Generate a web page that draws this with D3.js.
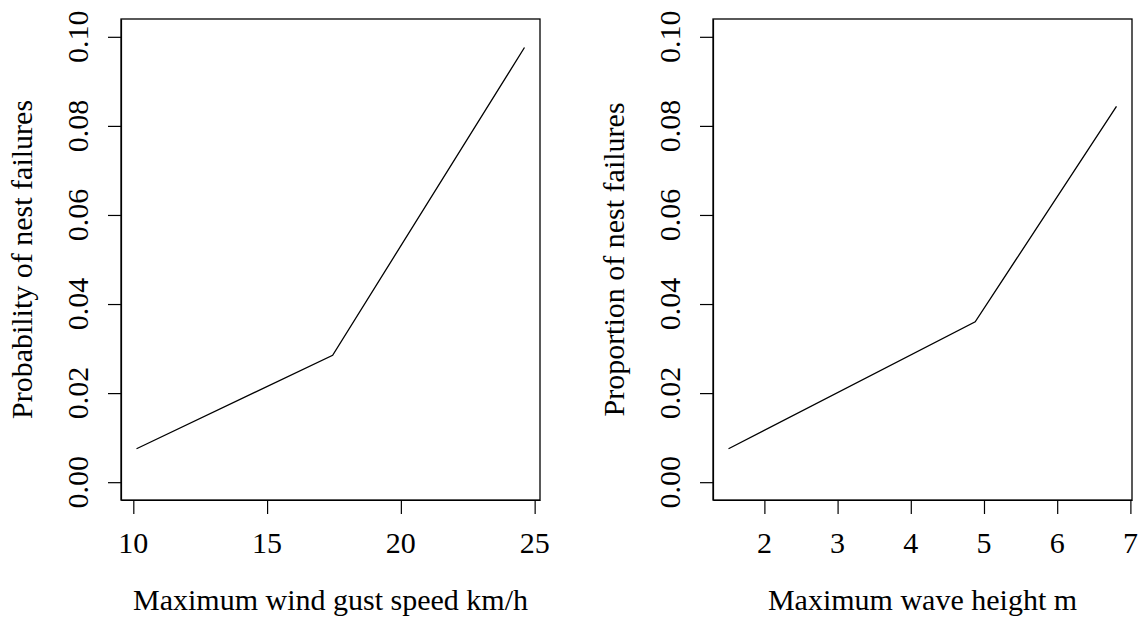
<!DOCTYPE html>
<html>
<head>
<meta charset="utf-8">
<script src="https://cdn.jsdelivr.net/npm/d3@7"></script>
<style>
  body { margin: 0; background: #fff; }
  #chart svg text, #chart svg { font-family: "Liberation Serif", "Times New Roman", serif !important; }
</style>
</head>
<body>
<div id="chart"></div>
<script>
// fitted curves
const windSpeed = [10.12, 17.45, 24.62]
const windProb = [0.0075, 0.0285, 0.0976]
const waveHeight = [1.51, 4.88, 6.81]
const waveProp = [0.0075, 0.036, 0.0844]

const yTicks = [0, 0.02, 0.04, 0.06, 0.08, 0.10]
const windTicks = [10, 15, 20, 25]
const waveTicks = [2, 3, 4, 5, 6, 7]

const width = 1146
const height = 622
const fontSize = 30
const serif = 'Liberation Serif'

const svg = d3.select('#chart')
    .append('svg')
    .attr('width', width)
    .attr('height', height)
    .attr('font-family', serif)

// R style range with 4% padding on each side
const padRange = (lo, hi) => {
    let ext = (hi - lo) * 0.04
    return [lo - ext, hi + ext]
}

const drawPanel = (opts) => {
    let { left, right, top, bottom, xs, yv, xTicks, xLabel, yLabel } = opts

    let xScale = d3.scaleLinear()
        .domain(padRange(d3.min(xs), d3.max(xs)))
        .range([left, right])
    let yScale = d3.scaleLinear()
        .domain(padRange(0, 0.1))
        .range([bottom, top])

    let g = svg.append('g')

    // y axis ticks
    let yAxis = d3.axisLeft(yScale)
        .tickValues(yTicks)
        .tickSize(13)
        .tickSizeOuter(0)
        .tickFormat('')
    g.append('g')
        .attr('transform', `translate(${left},0)`)
        .call(yAxis)
        .call(a => a.selectAll('line, path').attr('stroke', '#000').attr('stroke-width', 1.2))

    g.selectAll('.ylab')
        .data(yTicks)
        .enter()
        .append('text')
        .attr('class', 'ylab')
        .attr('text-anchor', 'middle')
        .attr('font-family', serif)
        .attr('font-size', fontSize)
        .attr('transform', d => `translate(${left - 33},${yScale(d)}) rotate(-90)`)
        .text(d => d3.format('.2f')(d))

    // x axis ticks
    let xAxis = d3.axisBottom(xScale)
        .tickValues(xTicks)
        .tickSize(14)
        .tickSizeOuter(0)
        .tickFormat('')
    g.append('g')
        .attr('transform', `translate(0,${bottom})`)
        .call(xAxis)
        .call(a => a.selectAll('line, path').attr('stroke', '#000').attr('stroke-width', 1.2))

    g.selectAll('.xlab')
        .data(xTicks)
        .enter()
        .append('text')
        .attr('class', 'xlab')
        .attr('text-anchor', 'middle')
        .attr('font-family', serif)
        .attr('font-size', fontSize)
        .attr('x', d => xScale(d))
        .attr('y', bottom + 53)
        .text(d => d)

    // box
    g.append('rect')
        .attr('x', left)
        .attr('y', top)
        .attr('width', right - left)
        .attr('height', bottom - top)
        .attr('fill', 'none')
        .attr('stroke', '#000')
        .attr('stroke-width', 1.3)

    // curve
    let line = d3.line()
        .x(d => xScale(d[0]))
        .y(d => yScale(d[1]))
    g.append('path')
        .datum(d3.zip(xs, yv))
        .attr('d', line)
        .attr('fill', 'none')
        .attr('stroke', '#000')
        .attr('stroke-width', 1.3)

    // titles
    g.append('text')
        .attr('text-anchor', 'middle')
        .attr('font-family', serif)
        .attr('font-size', fontSize)
        .attr('x', (left + right) / 2)
        .attr('y', bottom + 110)
        .text(xLabel)

    g.append('text')
        .attr('text-anchor', 'middle')
        .attr('font-family', serif)
        .attr('font-size', fontSize)
        .attr('transform', `translate(${left - 89},${(top + bottom) / 2}) rotate(-90)`)
        .text(yLabel)
}

drawPanel({
    left: 121, right: 540, top: 19, bottom: 500,
    xs: windSpeed, yv: windProb, xTicks: windTicks,
    xLabel: 'Maximum wind gust speed km/h',
    yLabel: 'Probability of nest failures'
})

drawPanel({
    left: 713, right: 1132, top: 19, bottom: 500,
    xs: waveHeight, yv: waveProp, xTicks: waveTicks,
    xLabel: 'Maximum wave height m',
    yLabel: 'Proportion of nest failures'
})
</script>
</body>
</html>
